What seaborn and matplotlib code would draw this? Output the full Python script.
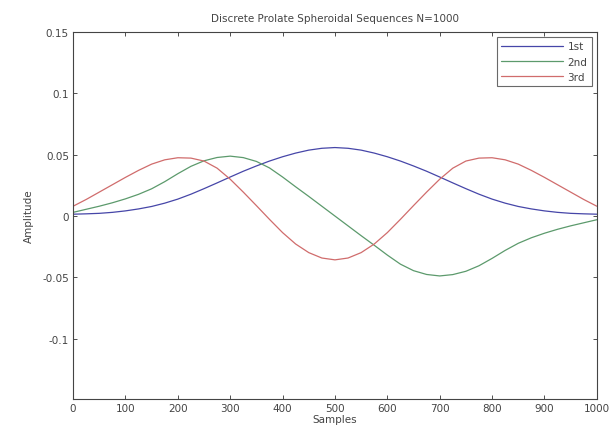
import numpy as np
import pandas as pd
import seaborn as sns
import matplotlib.pyplot as plt

# Values (every 25 samples)
samples = list(range(0, 1001, 25))

first = [0.0015, 0.0018, 0.0022, 0.0030, 0.0042, 0.0058, 0.0078, 0.0105, 0.0138, 0.0178,
         0.0223, 0.0270, 0.0318, 0.0365, 0.0408, 0.0448, 0.0483, 0.0513, 0.0537, 0.0552,
         0.0558,
         0.0552, 0.0537, 0.0513, 0.0483, 0.0448, 0.0408, 0.0365, 0.0318, 0.0270, 0.0223,
         0.0178, 0.0138, 0.0105, 0.0078, 0.0058, 0.0042, 0.0030, 0.0022, 0.0018, 0.0015]

second = [0.0030, 0.0055, 0.0080, 0.0108, 0.0140, 0.0177, 0.0222, 0.0280, 0.0345, 0.0405,
          0.0450, 0.0477, 0.0488, 0.0476, 0.0445, 0.0392, 0.0318, 0.0238, 0.0160, 0.0080,
          0.0000,
          -0.0080, -0.0160, -0.0238, -0.0318, -0.0392, -0.0445, -0.0476, -0.0488, -0.0477, -0.0450,
          -0.0405, -0.0345, -0.0280, -0.0222, -0.0177, -0.0140, -0.0108, -0.0080, -0.0055, -0.0030]

third = [0.0080, 0.0135, 0.0195, 0.0255, 0.0315, 0.0372, 0.0423, 0.0458, 0.0475, 0.0472,
         0.0448, 0.0390, 0.0300, 0.0195, 0.0085, -0.0027, -0.0135, -0.0228, -0.0298, -0.0342,
         -0.0357,
         -0.0342, -0.0298, -0.0228, -0.0135, -0.0027, 0.0085, 0.0195, 0.0300, 0.0390, 0.0448,
         0.0472, 0.0475, 0.0458, 0.0423, 0.0372, 0.0315, 0.0255, 0.0195, 0.0135, 0.0080]

labels = ["1st", "2nd", "3rd"]
colors = ["#4646a8", "#5c9a6c", "#d06c6c"]
x_ticks = list(range(0, 1001, 100))
y_ticks = [-0.1, -0.05, 0, 0.05, 0.1, 0.15]
y_tick_labels = ["-0.1", "-0.05", "0", "0.05", "0.1", "0.15"]

# Long format table for seaborn
df = pd.DataFrame({
    "Samples": samples * 3,
    "Amplitude": first + second + third,
    "Sequence": np.repeat(labels, len(samples)),
})

sns.set_style("white")
plt.rcParams["font.family"] = ["DejaVu Sans"]
plt.rcParams["font.size"] = 7

fig = plt.figure(figsize=(6.09, 4.39), dpi=100)
ax = fig.add_axes([0.120, 0.089, 0.860, 0.836])

sns.lineplot(data=df, x="Samples", y="Amplitude", hue="Sequence",
             palette=colors, linewidth=0.9, ax=ax)

ax.set_xlim(0, 1000)
ax.set_ylim(-0.149, 0.15)
ax.set_xticks(x_ticks)
ax.set_yticks(y_ticks)
ax.set_yticklabels(y_tick_labels)
ax.tick_params(direction="in", length=3, width=0.6, colors="#333333",
               labelcolor="#444444", labelsize=7.5, top=True, right=True,
               bottom=True, left=True, pad=3)
for side in ax.spines.values():
    side.set_color("#444444")
    side.set_linewidth(0.8)

ax.set_title("Discrete Prolate Spheroidal Sequences N=1000", fontsize=7.5,
             color="#444444", pad=8)
ax.set_xlabel("Samples", fontsize=7.5, color="#444444", labelpad=1)
ax.set_ylabel("Amplitude", fontsize=7.5, color="#444444", labelpad=6)

leg = ax.legend(loc="upper right", fontsize=7.5, frameon=True, fancybox=False,
                handlelength=6, borderaxespad=0.5, labelspacing=0.5,
                handletextpad=0.4)
leg.get_frame().set_edgecolor("#444444")
leg.get_frame().set_linewidth(0.8)
for t in leg.get_texts():
    t.set_color("#444444")

fig.savefig("out.png", dpi=100, facecolor="white")
